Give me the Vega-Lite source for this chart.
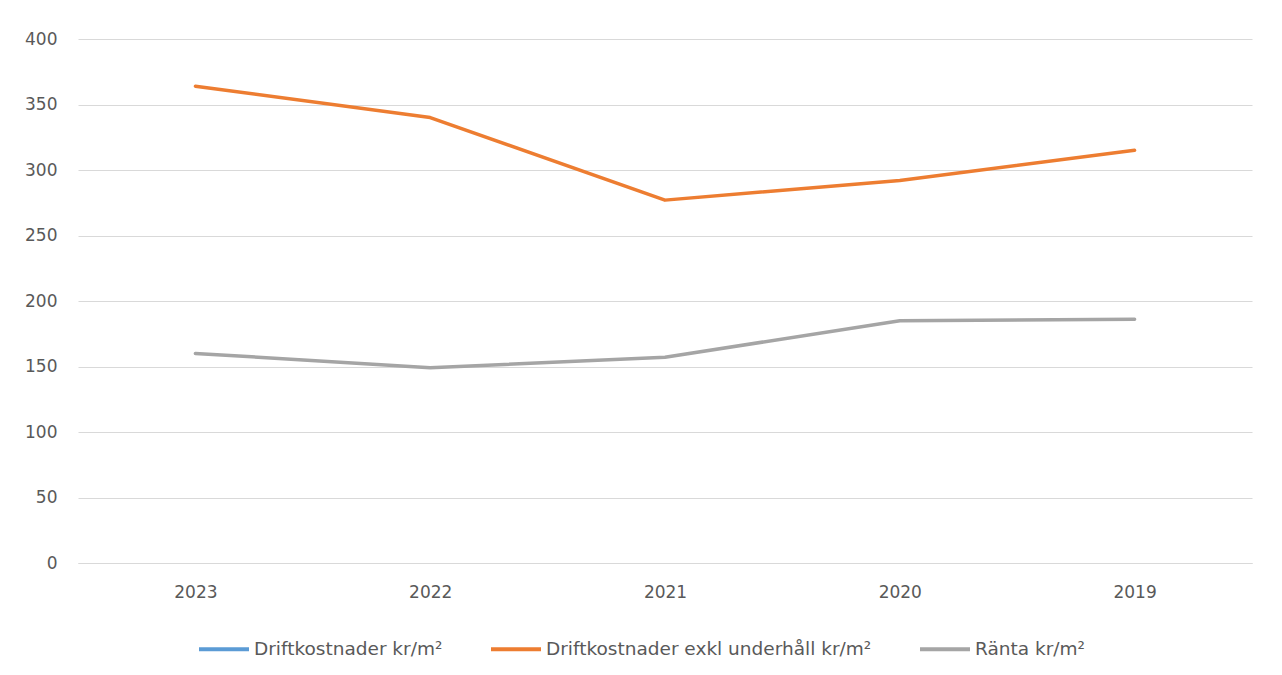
{
  "$schema": "https://vega.github.io/schema/vega-lite/v6.json",
  "width": 1174,
  "height": 524,
  "autosize": "none",
  "padding": {"left": 78, "top": 39, "right": 30, "bottom": 112},
  "background": "white",
  "data": {
    "values": [
      {"year": "2023", "serie": "Driftkostnader kr/m²", "value": null},
      {"year": "2022", "serie": "Driftkostnader kr/m²", "value": null},
      {"year": "2021", "serie": "Driftkostnader kr/m²", "value": null},
      {"year": "2020", "serie": "Driftkostnader kr/m²", "value": null},
      {"year": "2019", "serie": "Driftkostnader kr/m²", "value": null},
      {"year": "2023", "serie": "Driftkostnader exkl underhåll kr/m²", "value": 364},
      {"year": "2022", "serie": "Driftkostnader exkl underhåll kr/m²", "value": 340},
      {"year": "2021", "serie": "Driftkostnader exkl underhåll kr/m²", "value": 277},
      {"year": "2020", "serie": "Driftkostnader exkl underhåll kr/m²", "value": 292},
      {"year": "2019", "serie": "Driftkostnader exkl underhåll kr/m²", "value": 315},
      {"year": "2023", "serie": "Ränta kr/m²", "value": 160},
      {"year": "2022", "serie": "Ränta kr/m²", "value": 149},
      {"year": "2021", "serie": "Ränta kr/m²", "value": 157},
      {"year": "2020", "serie": "Ränta kr/m²", "value": 185},
      {"year": "2019", "serie": "Ränta kr/m²", "value": 186}
    ]
  },
  "mark": {"type": "line", "strokeWidth": 3.5, "strokeCap": "round", "strokeJoin": "round"},
  "encoding": {
    "x": {
      "field": "year",
      "type": "nominal",
      "sort": ["2023", "2022", "2021", "2020", "2019"],
      "scale": {"paddingInner": 0, "paddingOuter": 0.5},
      "axis": {
        "title": null,
        "labelAngle": 0,
        "labelFont": "DejaVu Sans",
        "labelFontSize": 17,
        "labelColor": "#595959",
        "labelPadding": 21,
        "ticks": false,
        "domainColor": "#D9D9D9",
        "grid": false
      }
    },
    "y": {
      "field": "value",
      "type": "quantitative",
      "scale": {"domain": [0, 400], "nice": false},
      "axis": {
        "title": null,
        "values": [0, 50, 100, 150, 200, 250, 300, 350, 400],
        "labelFont": "DejaVu Sans",
        "labelFontSize": 17,
        "labelColor": "#595959",
        "labelPadding": 21,
        "ticks": false,
        "domain": false,
        "gridColor": "#D9D9D9",
        "gridWidth": 1
      }
    },
    "color": {
      "field": "serie",
      "type": "nominal",
      "scale": {
        "domain": ["Driftkostnader kr/m²", "Driftkostnader exkl underhåll kr/m²", "Ränta kr/m²"],
        "range": ["#5B9BD5", "#ED7D31", "#A5A5A5"]
      },
      "legend": {
        "title": null,
        "orient": "none",
        "legendX": 119,
        "legendY": 583,
        "direction": "horizontal",
        "symbolType": "stroke",
        "symbolSize": 2500,
        "symbolStrokeWidth": 4,
        "labelFont": "DejaVu Sans",
        "labelFontSize": 18.5,
        "labelColor": "#595959",
        "labelOffset": 3,
        "columnPadding": 40,
        "labelLimit": 500
      }
    }
  },
  "config": {"view": {"stroke": null}}
}
